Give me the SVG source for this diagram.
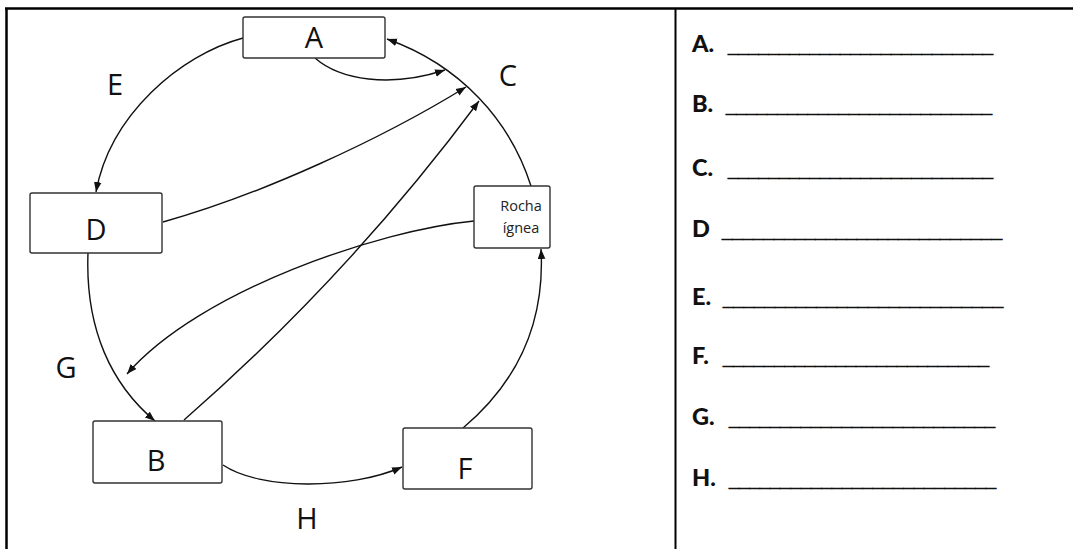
<svg xmlns="http://www.w3.org/2000/svg" width="1073" height="549" viewBox="0 0 1073 549">
<defs>
<marker id="ah" viewBox="0 0 10 10" refX="10" refY="5" markerWidth="10" markerHeight="10" markerUnits="userSpaceOnUse" orient="auto">
<path d="M0,1.2 L10,5 L0,8.8 z" fill="#111"/>
</marker>
<style>
.box{fill:#fff;stroke:#333;stroke-width:1.4}
.lbl{font-family:"Open Sans","Liberation Sans",sans-serif;font-size:29px;fill:#111;text-anchor:middle}
.small{font-family:"Open Sans","Liberation Sans",sans-serif;font-size:14.5px;fill:#222;text-anchor:middle}
.con{fill:none;stroke:#111;stroke-width:1.4}
.ans{font-family:Lato,"Liberation Sans",sans-serif;font-weight:900;font-size:23.5px;fill:#111}
.ul{font-family:"Liberation Sans",Arial,sans-serif;font-weight:700;font-size:21px;stroke:#111;stroke-width:0.9}
.frame{stroke:#000;stroke-width:2.5;fill:none}
</style>
</defs>
<rect width="1073" height="549" fill="#fff"/>
<g id="frame">
<line class="frame" x1="5" y1="8.5" x2="1073" y2="8.5"/>
<line class="frame" x1="6.5" y1="8" x2="6.5" y2="549"/>
<line class="frame" x1="675.5" y1="8" x2="675.5" y2="549" style="stroke-width:2"/>
</g>
<g id="connectors">
<path class="con" d="M243,38 C180,55 110,115 96,192" marker-end="url(#ah)"/>
<path class="con" d="M88,253 C85,330 112,385 155,421" marker-end="url(#ah)"/>
<path class="con" d="M223,465 C260,490 350,490 402,467" marker-end="url(#ah)"/>
<path class="con" d="M463,428 C520,380 545,320 541,249" marker-end="url(#ah)"/>
<path class="con" d="M531,186 C510,120 460,65 387,39" marker-end="url(#ah)"/>
<path class="con" d="M315,58 C340,80 390,88 445,70" marker-end="url(#ah)"/>
<path class="con" d="M163,222 C260,195 380,140 466,87" marker-end="url(#ah)"/>
<path class="con" d="M184,420 Q349,276 479,101" marker-end="url(#ah)"/>
<path class="con" d="M474,221 C380,230 200,290 127,374" marker-end="url(#ah)"/>
</g>
<g id="node-A"><rect class="box" x="243" y="17" width="142" height="41" rx="2"/><text class="lbl" x="314" y="48">A</text></g>
<g id="node-D"><rect class="box" x="30" y="193" width="132" height="60" rx="2"/><text class="lbl" x="96" y="240">D</text></g>
<g id="node-Rocha"><rect class="box" x="474" y="186" width="76" height="62" rx="2"/><text class="small" x="521" y="211">Rocha</text><text class="small" x="521" y="233">ígnea</text></g>
<g id="node-B"><rect class="box" x="93" y="421" width="129" height="62" rx="2"/><text class="lbl" x="156" y="471">B</text></g>
<g id="node-F"><rect class="box" x="403" y="428" width="129" height="61" rx="2"/><text class="lbl" x="465" y="479">F</text></g>
<g id="labels">
<text class="lbl" x="115" y="95">E</text>
<text class="lbl" x="508" y="86">C</text>
<text class="lbl" x="66" y="378">G</text>
<text class="lbl" x="307" y="529">H</text>
</g>
<g id="answers">
<text class="ans" x="692" y="52">A. <tspan class="ul" x="728" textLength="265" lengthAdjust="spacingAndGlyphs">__________________________</tspan></text>
<text class="ans" x="692" y="112">B. <tspan class="ul" x="726" textLength="266" lengthAdjust="spacingAndGlyphs">__________________________</tspan></text>
<text class="ans" x="692" y="176">C. <tspan class="ul" x="728" textLength="265" lengthAdjust="spacingAndGlyphs">__________________________</tspan></text>
<text class="ans" x="692" y="237">D <tspan class="ul" x="722" textLength="280" lengthAdjust="spacingAndGlyphs">___________________________</tspan></text>
<text class="ans" x="692" y="305">E. <tspan class="ul" x="723" textLength="280" lengthAdjust="spacingAndGlyphs">___________________________</tspan></text>
<text class="ans" x="692" y="364">F. <tspan class="ul" x="723" textLength="266" lengthAdjust="spacingAndGlyphs">__________________________</tspan></text>
<text class="ans" x="692" y="425">G. <tspan class="ul" x="729" textLength="266" lengthAdjust="spacingAndGlyphs">__________________________</tspan></text>
<text class="ans" x="692" y="486">H. <tspan class="ul" x="729" textLength="267" lengthAdjust="spacingAndGlyphs">__________________________</tspan></text>
</g>
</svg>
